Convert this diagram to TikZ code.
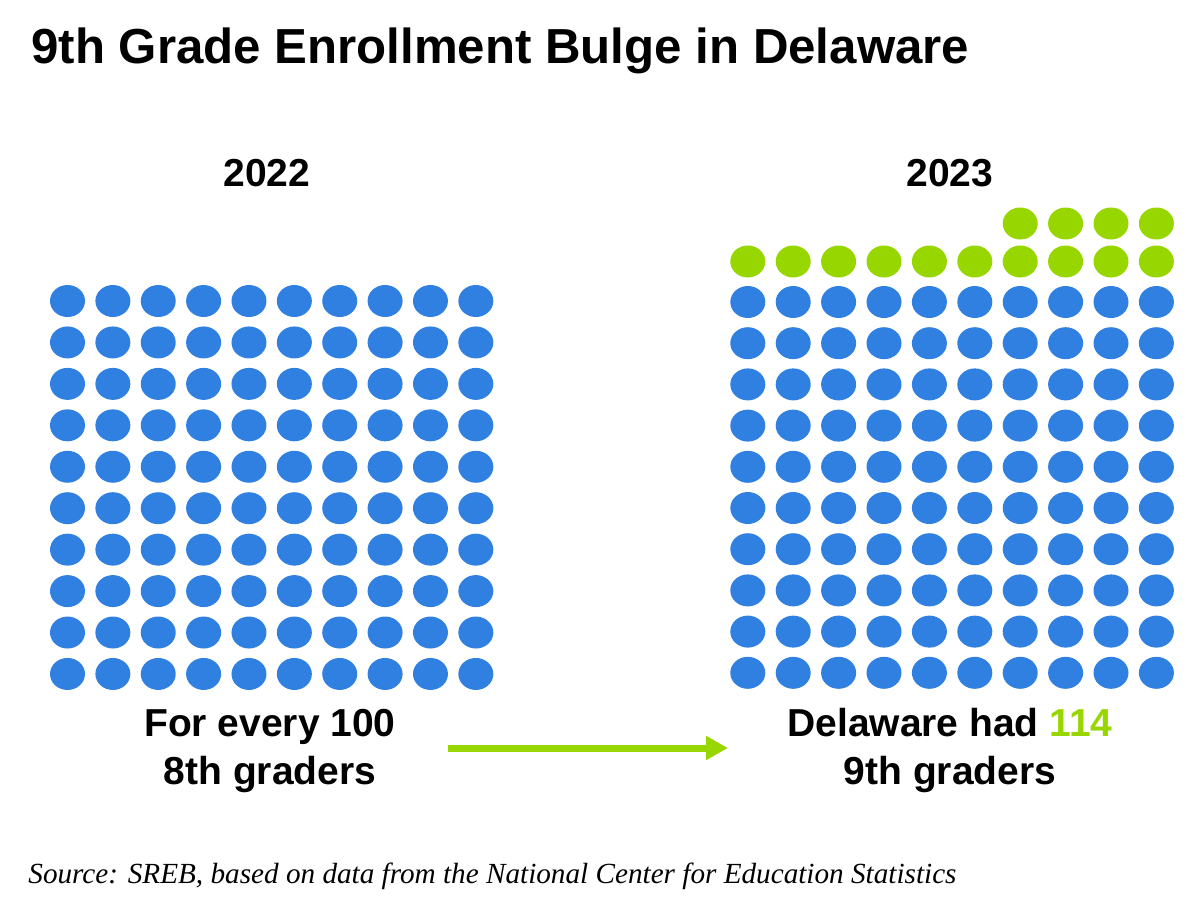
\documentclass[tikz,border=0pt]{standalone}
\usepackage{fontspec}
\setmainfont{Liberation Sans}
\newfontfamily\sourcefont{Liberation Serif}
\usepackage{tikz}
\usetikzlibrary{arrows.meta}
\usetikzlibrary{positioning}

\definecolor{dotblue}{RGB}{48,128,226}
\definecolor{dotgreen}{RGB}{152,214,0}

\begin{document}
\begin{tikzpicture}[x=0.5pt,y=-0.5pt,
    title/.style={anchor=base west,inner sep=0pt,font=\fontsize{24.6}{29}\selectfont\bfseries},
    year/.style={anchor=base,inner sep=0pt,font=\fontsize{19.5}{24}\selectfont\bfseries},
    caption/.style={anchor=base,inner sep=0pt,align=center,font=\fontsize{19.5}{24}\selectfont\bfseries},
    source/.style={anchor=base west,inner sep=0pt,font=\sourcefont\itshape\fontsize{14.6}{17}\selectfont},
    blue dot/.style={fill=dotblue},
    green dot/.style={fill=dotgreen}]

  \useasboundingbox (0,0) rectangle (1200,906);

  \node [title] (title) at (31,63) {9th Grade Enrollment Bulge in Delaware};

  \node [year] (y2022) at (267,186) {2022};
  \node [year] (y2023) at (950,186) {2023};

  % 2022: 100 eighth graders
  \foreach \i in {0,...,9}
    \foreach \j in {0,...,9}
      \fill [blue dot] (67.5+45.37*\i,301+41.44*\j) ellipse [x radius=17.5,y radius=16];

  % 2023: 100 + 14 ninth graders
  \foreach \i in {0,...,9}
    \foreach \j in {0,...,9}
      \fill [blue dot] (747.8+45.4*\i,302+41.2*\j) ellipse [x radius=17.5,y radius=16];
  \foreach \i in {0,...,9}
    \fill [green dot] (747.8+45.4*\i,261.5) ellipse [x radius=17.5,y radius=16];
  \foreach \i in {6,...,9}
    \fill [green dot] (747.8+45.4*\i,223.5) ellipse [x radius=17.5,y radius=16];

  \node [caption] (before) at (270,784) {For every 100\\8th graders};
  \node [caption] (after) at (950,784) {Delaware had \textcolor{dotgreen}{114}\\9th graders};

  \coordinate (from) at (448,748);
  \coordinate (to) at (728,748);
  \draw [dotgreen,line width=3.5pt,-{Triangle[length=11pt,width=11.4pt]}] (from) -- (to);

  \node [source] (source) at (28,883) {Source: SREB, based on data from the National Center for Education Statistics};

\end{tikzpicture}
\end{document}
